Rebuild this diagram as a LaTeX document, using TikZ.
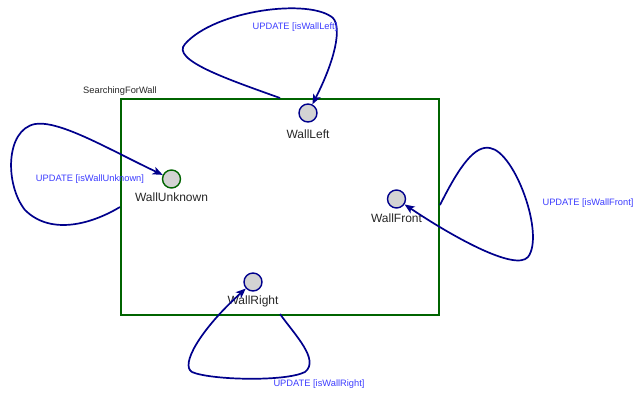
\documentclass[tikz,border=0pt]{standalone}
\usepackage{fontspec}
\setmainfont{Liberation Sans}
\usetikzlibrary{arrows.meta}
\definecolor{bleunuit}{RGB}{0,0,140}
\definecolor{vertfonce}{RGB}{0,100,0}
\definecolor{bleuclair}{RGB}{60,60,255}
\definecolor{grisetat}{RGB}{211,211,211}
\tikzstyle{etat} = [circle, draw=bleunuit, fill=grisetat, line width=1.4pt, minimum size=18pt, inner sep=0pt]
\tikzstyle{nometat} = [font=\fontsize{12}{14}\selectfont, text=black!85, inner sep=1pt]
\tikzstyle{garde} = [font=\fontsize{9.3}{11}\selectfont, text=bleuclair, inner sep=0pt]
\tikzstyle{boucle} = [draw=bleunuit, line width=1.7pt, -{Stealth[length=10pt,width=8pt,inset=2.5pt]}]

\begin{document}
\begin{tikzpicture}[x=1pt, y=-1pt]

        \useasboundingbox (0,0) rectangle (637,392);

        % etat composite
        \node (SFW) [draw=vertfonce, line width=1.6pt, minimum width=318pt, minimum height=216pt, anchor=north west] at (120,98) {};
        \node (titre) [font=\fontsize{9.3}{11}\selectfont, text=black!85] at (120,91) {SearchingForWall};

        % sous-etats
        \node (WallLeft) [etat, label={[nometat, label distance=6pt]below:WallLeft}] at (308,113) {};
        \node (WallUnknown) [etat, draw=vertfonce, label={[nometat, label distance=3pt]below:WallUnknown}] at (171.5,179) {};
        \node (WallFront) [etat, label={[nometat, label distance=3.5pt]below:WallFront}] at (396.5,199) {};
        \node (WallRight) [etat, label={[nometat, label distance=3pt]below:WallRight}] at (253,282) {};

        % departs des boucles sur le cadre
        \coordinate (dL) at (280,98);
        \coordinate (dU) at (120,207);
        \coordinate (dF) at (440,205);
        \coordinate (dR) at (280,314);

        % boucles UPDATE
        \draw[boucle] (dL) .. controls (230,80) and (170,60) .. (185,44)
                           .. controls (215,10) and (310,-2) .. (333,18)
                           .. controls (342,28) and (335,60) .. (WallLeft);
        \draw[boucle] (dU) .. controls (90,225) and (50,235) .. (25,210)
                           .. controls (5,185) and (5,130) .. (35,124)
                           .. controls (60,120) and (110,150) .. (WallUnknown);
        \draw[boucle] (dF) .. controls (460,165) and (475,145) .. (490,148)
                           .. controls (515,152) and (545,235) .. (528,257)
                           .. controls (515,272) and (450,235) .. (WallFront);
        \draw[boucle] (dR) .. controls (295,335) and (320,360) .. (305,372)
                           .. controls (285,382) and (210,380) .. (192,372)
                           .. controls (180,365) and (200,330) .. (WallRight);

        \node (gL) [garde] at (295,27) {UPDATE [isWallLeft]};
        \node (gU) [garde] at (90,179) {UPDATE [isWallUnknown]};
        \node (gF) [garde] at (588,203) {UPDATE [isWallFront]};
        \node (gR) [garde] at (319,384) {UPDATE [isWallRight]};

    \end{tikzpicture}
\end{document}
